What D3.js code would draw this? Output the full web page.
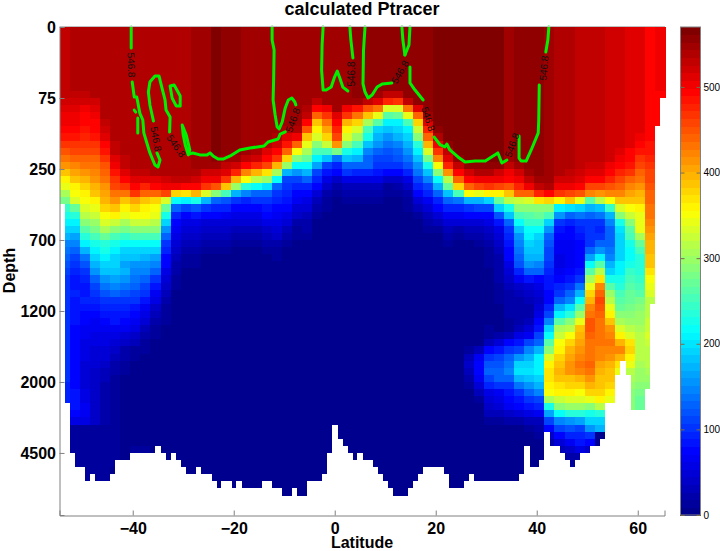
<!DOCTYPE html>
<html><head><meta charset="utf-8">
<script src="https://cdn.jsdelivr.net/npm/d3@7"></script>
<style>
html,body{margin:0;padding:0;background:#fff}
svg{display:block;font-family:"Liberation Sans",Arial,sans-serif}
</style></head><body><div id="chart"></div>
<script>
const title = "calculated Ptracer";
const xLabel = "Latitude";
const yLabel = "Depth";
const latTicks = [-40,-20,0,20,40,60];
const depthTickLevels = [0,5,10,15,20,25,30];
const depthTickLabels = ["0","75","250","700","1200","2000","4500"];
const colorTicks = [0,100,200,300,400,500];
const colorMax = 570;
const abyssalValue = 3;
const contourLabel = "546.8";

// first latitude edge of the tracer columns, each column 2 degrees wide, rows are half depth levels
const firstLat = -54.5;
const columnDegrees = 2;
// values per column, surface downward, one per half level; rows past the end hold abyssalValue
const tracerColumns = [
[530,530,530,530,530,530,530,530,530,530,520,512,505,500,495,485,465,450,430,410,385,365,345,310,280,245,225,205,190,175,150,140,130,120,110,105,100,100,100,100,100,100,100,100,100,100,100,100,100,100,95,95,95,70],
[535,535,535,535,535,535,535,535,535,530,522,512,505,500,495,485,470,455,442,425,405,385,365,350,330,270,235,205,190,165,150,125,115,105,92,82,85,90,88,85,85,83,80,80,78,77,75,75,75,75,80,85,85,82,78,60,16,16,16,16,16,16,16,16,16],
[538,538,538,538,538,538,538,538,538,530,518,505,497,490,485,478,465,455,445,430,415,400,380,365,350,335,315,290,260,235,205,175,140,120,100,90,82,88,90,85,80,75,70,65,60,58,55,52,50,50,52,55,60,65,68,55,16,16,16,16,16,16,16,16,16],
[538,538,538,538,538,538,538,538,538,538,525,510,502,495,490,485,470,458,445,432,420,410,400,385,365,345,325,300,280,258,225,205,190,175,160,125,110,100,90,82,75,70,65,60,55,50,48,45,42,40,38,38,40,42,44,36,15,15,15,15,15,15,15,15,15],
[540,540,540,540,540,540,540,540,540,540,540,540,535,528,520,510,498,485,470,450,438,428,418,408,398,375,355,330,305,275,240,225,205,195,185,160,135,120,105,95,85,78,70,62,55,50,45,40,33,28,24,22,20,20,20,18,12,12,12,12,12,12,12,12,12],
[543,543,543,543,543,543,543,543,543,543,543,543,543,543,543,540,534,526,515,500,485,472,455,435,415,385,360,325,290,250,225,205,195,190,185,165,145,125,105,95,88,82,70,58,50,42,33,24,18,14,12,12,12,12,12,12,10,10,10,10,10,10],
[543,543,543,543,543,543,543,543,543,543,543,543,543,543,543,543,543,538,534,528,512,490,470,435,390,365,345,310,280,245,215,195,180,165,170,155,140,120,105,95,85,80,65,50,36,26,18,12,9,8,8,8,8,8,8,8,6,6,6,6],
[543,543,543,543,543,543,543,543,543,543,543,543,543,543,543,543,543,543,543,538,530,510,490,465,405,375,355,325,290,250,215,195,180,160,150,140,125,115,100,88,78,65,55,42,29,15,9,6,5,5,5,5,5,5,5,5,5,5,8,12],
[543,543,543,543,543,543,543,543,543,543,543,543,543,543,543,543,543,543,543,538,532,515,480,445,385,360,350,325,290,250,215,195,175,160,145,130,115,100,85,70,55,45,35,26,15,9,6,5,4,4,4,4,4,4,4,4,4,4,6,10],
[543,543,543,543,543,543,543,543,543,543,543,543,543,543,543,543,543,543,543,543,536,515,490,440,375,355,340,315,285,255,215,190,165,145,125,100,85,70,55,42,31,26,15,9,6,4],
[543,543,543,543,543,543,543,543,543,543,543,543,543,543,543,543,543,543,543,543,538,525,505,455,330,270,225,190,160,125,100,90,78,72,62,49,42,31,22,15,12,9,7,6,4],
[543,543,543,543,543,543,543,543,543,543,543,543,543,543,543,543,543,543,543,543,543,534,500,380,215,125,90,75,65,55,45,39,31,26,19,12,9,6,5,4],
[543,543,543,543,543,543,543,543,543,543,543,543,543,543,543,543,543,543,543,543,543,532,495,370,205,110,80,58,49,39,31,26,15,9,7,5,4],
[544,544,544,544,544,544,544,544,544,544,544,544,544,544,544,544,544,544,544,544,540,525,490,400,230,120,85,62,49,39,29,22,12,9,6,4],
[550,550,550,550,550,550,550,550,550,550,550,550,550,550,550,550,550,550,550,548,525,505,470,330,170,100,75,49,39,29,22,12,7,5,4],
[562,562,562,562,562,562,562,562,562,562,562,562,562,562,562,562,562,562,560,550,525,505,450,290,130,95,75,53,42,31,22,12,7,5],
[560,560,560,560,560,560,560,560,560,560,560,560,560,560,560,560,560,558,552,530,510,465,385,250,120,90,70,49,39,29,19,12,7,5],
[556,556,556,556,556,556,556,556,556,556,556,556,556,556,556,556,556,556,550,520,480,400,300,170,100,78,62,45,31,22,12,7,5],
[550,550,550,550,550,550,550,550,550,550,550,550,550,550,550,550,550,548,530,490,425,350,240,150,95,80,62,45,35,22,12,7],
[545,545,545,545,545,545,545,545,545,545,545,545,545,545,545,545,545,542,520,480,400,320,220,130,100,80,62,45,31,18,9],
[545,545,545,545,545,545,545,545,545,545,545,545,545,545,545,545,542,515,490,455,370,300,200,125,100,85,72,55,42,31,18,9],
[545,545,545,545,545,545,545,545,545,545,545,545,545,545,545,542,525,495,465,400,310,220,130,100,90,80,70,58,49,39,26,15,9],
[545,545,545,545,545,545,545,545,545,545,545,545,545,545,542,510,485,445,380,300,170,115,100,90,82,80,62,49,35,22,9],
[545,545,545,545,545,545,545,545,545,545,545,545,545,545,542,505,440,355,290,215,160,115,90,78,68,49,39,26,15,9],
[545,545,545,545,545,545,545,545,545,545,545,542,530,495,450,390,345,310,270,220,170,125,95,75,58,45,35,26,18,9,6,4],
[545,545,545,545,545,545,545,545,545,545,530,495,445,385,360,330,290,250,205,165,115,90,72,49,31,19,10,7,5],
[548,548,548,548,548,548,548,548,548,548,545,505,465,435,405,375,325,250,185,115,85,62,39,26,15,9,6],
[552,552,552,552,552,552,552,552,552,552,552,548,510,490,475,455,415,280,140,95,75,42,26,12,7,4],
[552,552,552,552,552,552,552,552,552,552,550,505,465,395,360,335,290,225,180,130,100,62,35,18,9,4],
[554,554,554,554,554,554,554,554,554,554,550,485,435,375,335,300,255,210,170,130,90,58,35,19,9,4],
[556,556,556,556,556,556,556,556,556,556,530,450,385,310,250,225,185,145,130,125,95,55,31,18,9,5],
[556,556,556,556,556,556,556,556,556,550,510,430,345,260,195,170,155,130,112,100,85,62,31,18,9,6],
[556,556,556,556,556,556,556,556,556,530,475,330,260,205,180,160,135,122,112,100,75,42,15,9,5,4],
[556,556,556,556,556,556,556,556,556,530,470,335,270,205,190,170,145,130,118,105,75,42,26,12,5,4],
[556,556,556,556,556,556,556,556,556,554,530,435,345,255,210,195,175,155,140,122,90,62,39,26,15,9,5],
[556,556,556,556,556,556,556,556,556,556,556,515,440,375,325,285,240,205,180,155,135,115,95,72,49,29,15,7,4],
[558,558,558,558,558,558,558,558,558,558,558,556,545,510,480,440,395,335,280,225,185,150,115,90,70,49,35,22,9,5],
[565,565,565,565,565,565,565,565,565,565,565,565,565,565,560,540,505,470,420,350,290,220,170,125,90,72,49,31,15,7,4],
[565,565,565,565,565,565,565,565,565,565,565,565,565,565,565,565,555,530,512,480,410,320,270,180,125,95,70,49,31,19,9,4],
[565,565,565,565,565,565,565,565,565,565,565,565,565,565,565,565,565,565,560,530,495,440,375,250,135,95,65,45,26,15,7,4,3,3,3,3,3,3,3,3,3,3,3,3,4,5,6,6,5,3],
[565,565,565,565,565,565,565,565,565,565,565,565,565,565,565,565,565,565,565,560,525,495,445,350,170,100,72,45,29,18,7,4,4,4,4,4,4,4,4,4,4,4,4,5,6,12,29,42,35,22,9,4],
[565,565,565,565,565,565,565,565,565,565,565,565,565,565,565,565,565,565,565,560,535,505,460,345,175,110,78,53,35,26,12,7,5,4,4,4,4,4,4,4,4,4,4,5,7,35,70,78,80,70,53,29,15,7,5,4],
[565,565,565,565,565,565,565,565,565,565,565,565,565,565,565,565,565,565,565,560,535,505,465,360,195,115,80,58,42,31,24,15,10,9,7,6,6,6,6,6,6,7,9,15,35,75,105,120,130,115,95,62,53,42,29,12,5],
[562,562,562,562,562,562,562,562,562,562,562,562,562,562,562,562,562,562,562,555,525,500,460,360,270,195,120,85,62,49,39,31,26,24,22,18,12,10,9,8,7,6,6,22,53,85,108,122,128,125,100,70,58,53,31,15,6],
[550,550,550,550,550,550,550,550,550,550,550,550,550,550,550,550,550,550,548,530,505,490,450,385,315,225,180,125,98,92,85,78,72,62,53,42,35,26,22,19,18,15,15,35,75,100,125,140,148,130,100,82,75,68,42,22,7],
[553,553,553,553,553,553,553,553,553,553,553,553,553,553,553,553,553,553,553,548,525,505,480,440,325,285,250,220,185,160,145,135,125,118,95,70,42,35,26,22,22,22,35,58,88,110,160,190,198,175,135,100,88,72,45,22,7],
[555,555,555,555,555,555,555,555,555,555,555,555,555,555,555,555,555,555,555,555,552,530,500,440,335,285,265,245,220,205,195,185,175,160,125,85,49,39,31,22,22,31,45,70,110,145,175,195,203,180,155,125,100,88,62,31,12,6],
[560,560,560,560,560,560,560,560,560,560,560,560,560,560,560,560,560,560,560,560,558,548,530,480,370,290,270,245,215,190,185,180,170,150,125,75,55,45,42,49,55,72,88,110,130,170,205,212,213,195,170,150,110,90,68,35,22,15],
[548,548,548,548,548,548,548,548,548,548,548,548,548,548,548,548,548,548,548,548,548,546,535,490,380,290,255,195,160,130,122,115,108,98,90,85,82,80,80,95,115,145,190,220,260,290,335,365,372,370,360,348,305,230,165,110,75,39,22,9],
[538,538,538,538,538,538,538,538,538,538,538,538,538,538,538,538,538,538,538,538,536,525,505,470,360,210,155,100,85,75,70,66,58,58,68,78,90,105,125,170,205,260,305,325,350,362,380,390,398,385,372,358,325,285,220,150,110,75,49,29,15],
[535,535,535,535,535,535,535,535,535,535,535,535,535,535,535,535,535,535,535,535,532,520,500,460,390,200,130,90,78,72,70,70,70,70,72,85,100,125,150,200,240,285,320,355,380,398,408,418,410,390,375,360,335,295,235,160,120,95,70,42,26,9],
[532,532,532,532,532,532,532,532,532,532,532,532,532,532,532,532,532,532,532,530,525,510,490,450,340,190,135,105,90,82,80,80,80,80,85,105,140,175,220,260,300,340,385,400,405,412,420,428,420,400,378,355,330,295,240,165,115,95,85,55,22],
[530,530,530,530,530,530,530,530,530,530,530,530,530,530,530,530,530,530,530,525,515,495,460,420,260,170,125,105,100,100,105,130,165,215,265,310,345,375,398,420,435,448,448,440,435,430,432,440,435,415,395,375,345,290,225,190,160,105,75,42],
[528,528,528,528,528,528,528,528,528,528,528,528,528,528,528,528,528,528,528,525,510,490,455,410,320,180,140,100,92,105,125,160,205,260,320,370,425,445,460,452,442,435,430,430,428,425,425,405,395,390,385,382,360,320,240,190,170],
[525,525,525,525,525,525,525,525,525,525,525,525,525,525,525,525,525,525,522,505,495,475,450,420,350,245,175,145,130,130,130,135,150,170,190,225,265,295,320,345,365,390,410,425,428,425,415,400,390,387,375,360,340],
[518,518,518,518,518,518,518,518,518,518,518,518,518,518,518,518,518,512,500,490,478,460,445,420,385,335,290,230,200,190,190,190,195,205,210,225,240,250,260,275,290,310,335,365,395,420,400,370,340],
[512,512,512,512,512,512,512,512,512,512,512,512,512,512,512,512,508,498,490,482,470,445,425,408,385,350,325,290,265,250,225,215,215,230,245,255,260,268,275,282,290,298,312,335,370,380,360,340,320,305,295,290,290,285],
[508,508,508,508,508,508,508,508,508,508,508,508,508,508,508,506,495,485,470,455,440,430,418,400,390,360,340,340,340,310,275,250,235,238,240,248,252,265,278,285,295,302,310,318,320,318,312,305,300,295,285,278,272,270,268],
[497,497,497,497,497,497,497,497,497,497,492,490,490,490,490,490,488,482,476,470,462,455,450,445,440,432,430,422,418,408,398,394,390,385,370,355,340,330,320,320,320,325,328,330,325,320,315,312,308,300,292,290],
[502,502,502,502,502,502,502,502,502,496,495,495,495,495,490,490,490,490,490,490,490]
];

// sea floor per 1 degree latitude bin, in half depth levels
const seaFloor = [25,53,60,62,62,64,63,64,64,64,63,61,61,61,60,60,60,60,60,59,60,61,60,61,62,63,63,62,63,63,64,65,64,64,65,64,65,65,65,65,64,64,65,65,66,66,65,66,66,64,64,64,63,60,56,58,59,60,61,60,61,61,62,63,64,65,66,66,66,65,64,63,62,62,62,62,63,65,65,65,64,63,64,64,64,64,64,64,64,64,64,63,59,62,62,61,57,59,59,60,61,62,61,60,60,59,59,58,53,53,49,47,49,54,54,54,51,39,14,10];

// 546.8 contour, [latitude, depth level] vertices per strand
const contourStrands = [
[[-40.3,0],[-40.3,1.48]],
[[-40.1,3.87],[-39.7,4.93],[-39.2,4.93],[-38.6,6.06],[-38.0,6.55],[-37.8,7.46],[-37.2,8.17],[-36.6,8.87],[-35.6,9.72],[-35.0,9.86],[-34.6,9.37],[-35.2,8.87]],
[[-39.7,5.85],[-39.4,5.99]],
[[-39.0,6.41],[-39.0,7.46]],
[[-35.9,6.62],[-36.6,5.49],[-36.9,4.58],[-36.6,3.87],[-35.6,3.45],[-34.8,3.45],[-34.2,4.30],[-33.6,5.14],[-33.4,5.85],[-32.6,6.34],[-32.7,7.39]],
[[-32.6,4.15],[-31.8,4.08],[-30.6,4.86],[-30.6,5.56],[-31.4,5.56],[-32.2,5.0],[-32.6,4.15]],
[[-30.2,6.90],[-29.4,7.61],[-28.7,8.66],[-29.0,9.01],[-29.6,8.31],[-30.0,7.61],[-30.2,6.90]],
[[-28.9,8.94],[-28.1,8.87],[-26.7,9.01],[-25.3,9.01],[-24.7,8.87],[-24.1,9.08],[-23.1,9.30],[-22.1,9.30],[-20.7,9.08],[-18.8,8.66],[-16.8,8.52],[-14.0,8.38],[-13.2,8.10],[-11.2,7.89],[-10.8,7.54],[-9.8,7.39]],
[[-12.4,0],[-12.4,0.92],[-12.0,1.62],[-12.1,3.73],[-12.2,5.14],[-11.8,6.20],[-11.4,7.04],[-11.0,7.18],[-10.4,6.69],[-9.8,5.70],[-9.2,5.14],[-8.5,5.0],[-7.9,5.28],[-7.7,5.49]],
[[-2.3,0],[-2.5,1.27],[-2.6,3.03],[-2.3,4.44],[-1.7,4.44],[-0.7,4.23],[-0.1,3.59],[0.5,3.10],[1.0,3.59],[1.6,4.23],[2.6,4.51]],
[[3.0,0],[3.2,0.92],[3.6,2.18]],
[[6.0,0],[5.7,1.62],[5.6,4.01],[6.0,4.58],[6.6,5.0],[7.4,4.79],[8.4,4.23],[9.4,4.01],[11.3,3.94]],
[[13.3,0],[13.5,0.92],[13.9,1.97]],
[[14.9,0],[14.7,1.27],[13.9,1.97]],
[[14.9,2.82],[14.9,3.94],[15.9,4.44],[17.5,5.14]],
[[19.7,7.75],[20.9,8.31],[21.8,8.45],[22.2,8.24],[22.8,8.66],[24.4,9.15],[25.8,9.51],[27.8,9.44],[29.8,9.44],[32.3,8.87],[33.1,9.58],[34.1,9.37]],
[[36.5,7.68],[36.5,9.23],[36.9,9.44],[37.9,9.44],[38.9,8.66],[40.3,7.46],[40.4,6.55],[40.5,4.08]],
[[41.8,1.76],[42.2,0.92],[42.4,0]]
];
// contour label anchors: latitude, depth level, angle
const labelLats = [-40.3,-35.4,-31.4,-8.3,3.3,12.9,18.5,35.1,41.4];
const labelLevels = [2.68,7.89,8.38,6.55,3.31,3.17,6.48,8.31,2.89];
const labelAngles = [88,80,55,-70,-90,-60,72,-70,-85];

const W=720,H=551;
const svg=d3.select("#chart").append("svg").attr("width",W).attr("height",H);
const x=d3.scaleLinear().domain([-54.5,65.3]).range([59.5,664.5]);
const y=d3.scaleLinear().domain([0,34.37]).range([27,515]);
const axisGray="#808080";

const jet=d3.scaleLinear()
  .domain([0,0.125,0.375,0.625,0.875,1])
  .range(["#00008f","#0000ff","#00ffff","#ffff00","#ff0000","#800000"])
  .interpolate(d3.interpolateRgb);
const color=d3.scaleQuantize().domain([0,colorMax]).range(d3.range(64).map(i=>jet(i/63)));

// heat cells
const cells=[];
tracerColumns.forEach((col,c)=>{
  const rows=d3.max(seaFloor.slice(c*2,c*2+2));
  for(let r=0;r<rows;r++){
    cells.push({c,r,v:col[r]===undefined?abyssalValue:col[r]});
  }
});
svg.append("g").attr("shape-rendering","crispEdges").selectAll("rect").data(cells).join("rect")
  .attr("x",d=>x(firstLat+d.c*columnDegrees))
  .attr("y",d=>y(d.r/2))
  .attr("width",d=>x(firstLat+(d.c+1)*columnDegrees)-x(firstLat+d.c*columnDegrees)+0.5)
  .attr("height",d=>y((d.r+1)/2)-y(d.r/2)+0.5)
  .attr("fill",d=>color(d.v));
// land below the sea floor
svg.append("g").attr("shape-rendering","crispEdges").selectAll("rect").data(seaFloor).join("rect")
  .attr("x",(d,i)=>x(firstLat+i))
  .attr("y",d=>y(d/2))
  .attr("width",x(1)-x(0)+0.5)
  .attr("height",d=>y.range()[1]-y(d/2))
  .attr("fill","#fff");

// contour
const line=d3.line().x(d=>x(d[0])).y(d=>y(d[1]));
svg.append("g").selectAll("path").data(contourStrands).join("path")
  .attr("d",line).attr("fill","none").attr("stroke","#00f000").attr("stroke-width",3)
  .attr("stroke-linejoin","round").attr("stroke-linecap","round");
svg.append("g").selectAll("text").data(labelLats).join("text")
  .attr("transform",(d,i)=>`translate(${x(d)},${y(labelLevels[i])}) rotate(${labelAngles[i]})`)
  .attr("text-anchor","middle").attr("dy","0.35em")
  .attr("font-size",10).attr("fill","#111").text(contourLabel);

// axes
function style(g,size,weight){
  g.selectAll("path.domain").attr("stroke",axisGray).attr("stroke-width",1);
  g.selectAll(".tick line").attr("stroke",axisGray);
  g.selectAll(".tick text").attr("font-size",size).attr("font-weight",weight).attr("fill","#000")
    .attr("font-family",'"Liberation Sans",Arial,sans-serif');
}
const gx=svg.append("g").attr("transform",`translate(0,515.5)`)
  .call(d3.axisBottom(x).tickValues(latTicks).tickSize(-5).tickPadding(7).tickFormat(d=>d<0?"\u2212"+Math.abs(d):d));
style(gx,16,"bold");
const gy=svg.append("g").attr("transform",`translate(59.5,0)`)
  .call(d3.axisLeft(y).tickValues(depthTickLevels).tickSize(-5).tickPadding(3.5).tickFormat((d,i)=>depthTickLabels[i]));
style(gy,16,"bold");
svg.append("line").attr("x1",59.5).attr("x2",665).attr("y1",26.5).attr("y2",26.5).attr("stroke","#c0c0c0");

svg.append("text").attr("x",362).attr("y",15).attr("text-anchor","middle").attr("font-size",18).attr("font-weight","bold").text(title);
svg.append("text").attr("x",362).attr("y",547.5).attr("text-anchor","middle").attr("font-size",16).attr("font-weight","bold").text(xLabel);
svg.append("text").attr("transform","translate(14.5,270.5) rotate(-90)").attr("text-anchor","middle").attr("font-size",16).attr("font-weight","bold").text(yLabel);

// colour bar
const cb=d3.scaleLinear().domain([0,colorMax]).range([515,27]);
svg.append("g").attr("shape-rendering","crispEdges").selectAll("rect").data(color.range()).join("rect")
  .attr("x",680).attr("width",21)
  .attr("y",(d,i)=>cb((i+1)*colorMax/64)).attr("height",cb(0)-cb(colorMax/64)+0.5).attr("fill",d=>d);
svg.append("rect").attr("x",680.5).attr("y",27).attr("width",20).attr("height",488).attr("fill","none").attr("stroke",axisGray);
const tickColor="#7a6a4a";
const gc=svg.append("g").attr("transform","translate(700.5,0)")
  .call(d3.axisRight(cb).tickValues(colorTicks).tickSize(-4).tickPadding(3));
gc.select("path.domain").remove();
style(gc,10,"normal");
gc.selectAll(".tick line").attr("stroke",tickColor);
svg.append("g").selectAll("line").data(colorTicks).join("line")
  .attr("x1",680.5).attr("x2",684.5).attr("y1",d=>cb(d)+0.5).attr("y2",d=>cb(d)+0.5).attr("stroke",tickColor);
</script></body></html>
